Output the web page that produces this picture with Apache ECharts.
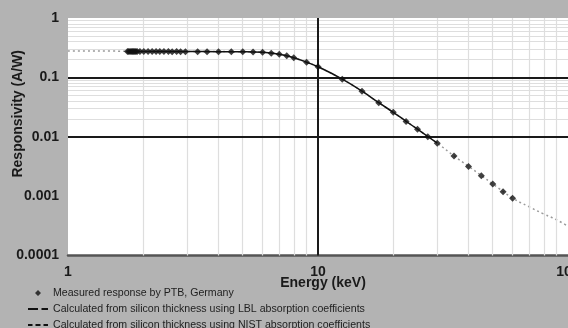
<!DOCTYPE html>
<html>
<head>
<meta charset="utf-8">
<script src="https://cdn.jsdelivr.net/npm/echarts@6/dist/echarts.min.js"></script>
<style>
  html, body { margin: 0; padding: 0; background: #b3b3b3; }
  #main { width: 568px; height: 328px; }
</style>
</head>
<body>
<div id="main"></div>
<script>
// measured points (PTB)
let ptbEnergy = [1.73, 1.75, 1.77, 1.79, 1.81, 1.83, 1.85, 1.87, 1.89,
    1.94, 2.01, 2.09, 2.17, 2.25, 2.33, 2.42, 2.52, 2.61, 2.72, 2.82, 2.95,
    3.3, 3.6, 4.0, 4.5, 5.0, 5.5, 6.0, 6.5, 7.0, 7.5, 8.0, 9.0, 10.0,
    12.5, 15.0, 17.5, 20.0, 22.5, 25.0, 27.5, 30.0, 35.0, 40.0, 45.0, 50.0, 55.0, 60.0];
let ptbResp = [0.274, 0.274, 0.273, 0.274, 0.273, 0.273, 0.274, 0.273, 0.273,
    0.273, 0.272, 0.273, 0.272, 0.272, 0.273, 0.272, 0.272, 0.271, 0.272, 0.271, 0.271,
    0.271, 0.270, 0.271, 0.270, 0.270, 0.268, 0.264, 0.254, 0.245, 0.232, 0.214, 0.179, 0.151,
    0.0932, 0.0585, 0.0374, 0.0258, 0.0181, 0.01335, 0.0100, 0.00776, 0.00473, 0.00316, 0.00221, 0.0016, 0.00119, 0.000923];

// LBL calculation
let lblEnergy = [1.75, 2, 3, 4, 5, 6, 7, 8, 9, 10, 12.5, 15, 17.5, 20, 22.5, 25, 27.5, 30];
let lblResp = [0.273, 0.272, 0.272, 0.271, 0.270, 0.264, 0.245, 0.214, 0.180, 0.151, 0.0935, 0.0585, 0.0375, 0.0258, 0.0182, 0.0134, 0.0101, 0.0078];

// NIST calculation
let nistEnergy = [1, 1.5, 2, 3, 4, 5, 6, 7, 8, 9, 10, 12.5, 15, 17.5, 20, 25, 30, 35, 40, 45, 50, 60, 70, 80, 90, 100];
let nistResp = [0.278, 0.277, 0.275, 0.273, 0.272, 0.270, 0.264, 0.245, 0.214, 0.180, 0.151, 0.093, 0.0585, 0.0374, 0.0258, 0.0134, 0.0078, 0.00475, 0.00318, 0.00222, 0.00161, 0.00093, 0.00066, 0.0005, 0.0004, 0.00031];

let legendNames = ['Measured response by PTB, Germany',
    'Calculated from silicon thickness using LBL absorption coefficients',
    'Calculated from silicon thickness using NIST absorption coefficients'];

let xDecades = [1, 10];
let yDecades = [0.0001, 0.001, 0.01, 0.1];

function pairs(xs, ys) {
    return xs.map((x, i) => [x, ys[i]]);
}

// log grid lines (minor at 2..9 of each decade)
let minorLines = [];
xDecades.forEach((d) => {
    for (let k = 2; k <= 9; k++) minorLines.push({ xAxis: k * d });
});
yDecades.forEach((d) => {
    for (let k = 2; k <= 9; k++) minorLines.push({ yAxis: +(k * d).toPrecision(3) });
});
let majorLines = [{ xAxis: 10 }, { yAxis: 0.001 }, { yAxis: 0.01 }, { yAxis: 0.1 }];

var myChart = echarts.init(document.getElementById('main'));
var font = 'Liberation Sans';
var option = {
    animation: false,
    backgroundColor: '#b3b3b3',
    textStyle: { fontFamily: font },
    grid: {
        left: 68, right: 0, top: 18, bottom: 72.5,
        outerBoundsMode: 'none',
        containLabel: false,
        show: true, backgroundColor: '#ffffff', borderWidth: 0
    },
    legend: {
        orient: 'vertical',
        left: 28,
        top: 287,
        height: 60,
        padding: 0,
        symbolKeepAspect: true,
        itemWidth: 20,
        itemHeight: 6,
        itemGap: 4,
        textStyle: { fontFamily: font, fontSize: 10.6, color: '#1e1e1e', lineHeight: 12 },
        data: [
            // invisible end points keep the diamond small inside the 20px icon box
            { name: legendNames[0], icon: 'path://M0,3L0,3.01M20,3L20,3.01M10,0L13,3L10,6L7,3Z', itemStyle: { color: '#111' } },
            { name: legendNames[1], icon: 'path://M0,0H10V2H0Z M13.5,0H20V2H13.5Z', itemStyle: { color: '#111' } },
            { name: legendNames[2], icon: 'path://M0,0H4.5V2H0Z M7.5,0H12.5V2H7.5Z M15.5,0H20V2H15.5Z', itemStyle: { color: '#111' } }
        ]
    },
    xAxis: {
        type: 'log',
        logBase: 10,
        min: 1,
        max: 100,
        name: 'Energy (keV)',
        nameLocation: 'middle',
        nameGap: 21,
        nameMoveOverlap: false,
        nameTextStyle: { fontFamily: font, fontSize: 14, fontWeight: 'bold', color: '#1a1a1a', padding: [0, 0, 0, 10] },
        axisLine: { show: true, lineStyle: { color: '#555', width: 2.5 } },
        axisTick: { show: false },
        axisLabel: { fontFamily: font, fontSize: 14, fontWeight: 'bold', color: '#1a1a1a', margin: 10 },
        splitLine: { show: false }
    },
    yAxis: {
        type: 'log',
        logBase: 10,
        min: 0.0001,
        max: 1,
        name: 'Responsivity (A/W)',
        nameLocation: 'middle',
        nameGap: 43,
        nameMoveOverlap: false,
        nameTextStyle: { fontFamily: font, fontSize: 14, fontWeight: 'bold', color: '#1a1a1a', padding: [0, 0, 0, 46] },
        axisLine: { show: false },
        axisTick: { show: false },
        axisLabel: {
            fontFamily: font, fontSize: 14, fontWeight: 'bold', color: '#1a1a1a', margin: 9,
            formatter: (v) => String(+v.toPrecision(1))
        },
        splitLine: { show: false }
    },
    series: [
        {
            name: 'minor', type: 'line', data: [], z: 1, silent: true,
            markLine: {
                silent: true, symbol: ['none', 'none'], label: { show: false },
                lineStyle: { color: '#dedede', width: 1.2, type: 'solid' },
                data: minorLines
            }
        },
        {
            name: 'major', type: 'line', data: [], z: 2, silent: true,
            markLine: {
                silent: true, symbol: ['none', 'none'], label: { show: false },
                lineStyle: { color: '#1a1a1a', width: 2, type: 'solid' },
                data: majorLines
            }
        },
        {
            name: legendNames[2], type: 'line', z: 3,
            data: pairs(nistEnergy, nistResp),
            showSymbol: false, symbol: 'none', smooth: true,
            lineStyle: { color: '#9a9a9a', width: 1.5, type: [2, 3] },
            itemStyle: { color: '#9a9a9a' }
        },
        {
            name: legendNames[1], type: 'line', z: 6,
            data: pairs(lblEnergy, lblResp),
            showSymbol: false, symbol: 'none', smooth: true,
            lineStyle: { color: '#111', width: 1.5, type: 'solid' },
            itemStyle: { color: '#111' }
        },
        {
            name: legendNames[0], type: 'scatter', z: 8,
            data: pairs(ptbEnergy, ptbResp),
            symbol: 'diamond', symbolSize: 7, symbolKeepAspect: true,
            itemStyle: { color: '#111' }
        }
    ]
};
myChart.setOption(option);
</script>
</body>
</html>
